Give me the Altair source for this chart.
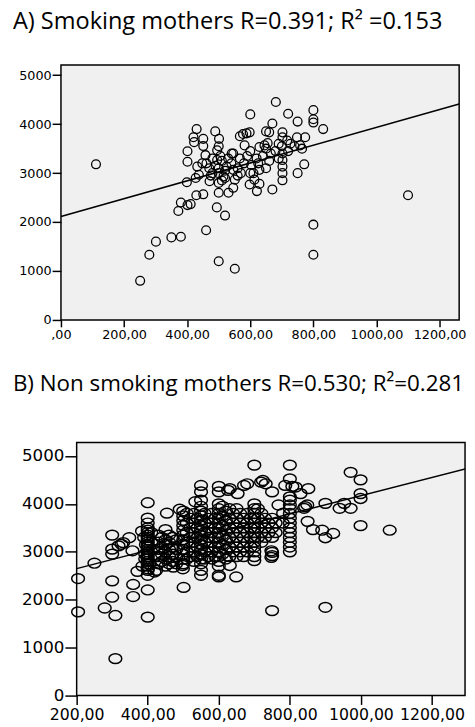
import altair as alt
import pandas as pd

# ---------------- text ----------------
title_a = "A) Smoking mothers R=0.391; R² =0.153"
title_b = "B) Non smoking mothers R=0.530; R²=0.281"

# ---------------- ticks ----------------
y_ticks = [0, 1000, 2000, 3000, 4000, 5000]
a_x_ticks = [0, 200, 400, 600, 800, 1000, 1200]
b_x_ticks = [200, 400, 600, 800, 1000, 1200]

# ---------------- panel A points (x, y) ----------------
a_sparse = [(111, 3180), (251, 800), (280, 1333), (301, 1600), (350, 1687), (380, 1700),
            (372, 2227), (380, 2400), (401, 2347), (411, 2367), (429, 2547), (451, 2567),
            (460, 1833), (500, 1200), (551, 1047), (494, 2300), (520, 2133), (399, 2813),
            (800, 1947), (800, 1333), (1100, 2547)]
a_left = [(401, 3233), (401, 3447), (420, 3733), (422, 3633), (430, 3900), (451, 3700),
          (451, 3553), (432, 3133), (448, 3200), (458, 3367), (427, 2900), (437, 2967),
          (489, 3853), (501, 3700), (495, 3467), (495, 3267), (500, 3000), (500, 2800),
          (500, 2600), (531, 2600), (515, 2933), (525, 3133), (546, 3067), (541, 3400),
          (471, 2833), (461, 3200)]
a_right = [(681, 4453), (600, 4200), (720, 4213), (750, 4053), (800, 4287), (800, 4100),
           (800, 4033), (831, 3900), (670, 4013), (650, 3853), (660, 3833), (702, 3833),
           (702, 3733), (774, 3733), (748, 3733), (758, 3567), (764, 3500), (727, 3600),
           (717, 3667), (577, 3800), (588, 3813), (598, 3833), (567, 3753), (582, 3567),
           (629, 3533), (645, 3567), (655, 3613), (702, 3400), (702, 3267), (702, 3133),
           (702, 3000), (702, 2853), (670, 2667), (771, 3180), (750, 3000), (621, 2633),
           (598, 2767), (629, 2780), (613, 2867), (546, 2700), (551, 2867), (650, 3100),
           (629, 3067), (603, 3167), (567, 3300), (546, 3400)]
a_core = [(470, 3100), (480, 3000), (490, 3150), (505, 3350), (510, 3250), (520, 3050),
          (530, 3300), (480, 3300), (475, 2950), (510, 2850), (540, 3200), (560, 3100),
          (570, 3000), (580, 3200), (590, 3350), (620, 3300), (640, 3350), (600, 3450),
          (610, 3000), (660, 3250), (680, 3450), (690, 3300), (650, 3500), (700, 3550),
          (720, 3450), (740, 3550), (560, 2950), (520, 2900), (600, 3000), (625, 3200),
          (665, 3400), (690, 3600), (500, 3550), (500, 3100)]

# ---------------- panel B points (x, y) ----------------
b_sparse_left = [(204, 2442), (204, 1746), (250, 2762), (300, 3349), (300, 3056), (300, 2953),
                 (318, 3124), (331, 3192), (348, 3294), (357, 3022), (300, 2394), (300, 2053),
                 (279, 1828), (309, 1671), (309, 771), (359, 2319), (359, 2067), (371, 2593),
                 (384, 3431), (393, 2851), (326, 3157), (393, 2953)]
b_col400 = [(400, 4025), (400, 3704), (400, 3601), (400, 3500), (400, 3450), (400, 3400),
            (400, 3350), (400, 3300), (400, 3250), (400, 3200), (400, 3150), (400, 3100),
            (400, 3050), (400, 3000), (400, 2950), (400, 2900), (400, 2850), (400, 2800),
            (400, 2750), (400, 2700), (400, 2646), (400, 2613), (400, 2511), (400, 2204),
            (400, 1637)]
b_block450 = [(390, 3300), (410, 3200), (415, 3050), (420, 2900), (405, 2750), (385, 2700),
              (395, 3150), (410, 3400), (424, 2613), (419, 2578), (430, 3350), (430, 3200),
              (430, 3050), (430, 2900), (430, 2750), (440, 3300), (440, 3100), (440, 2950),
              (440, 2800), (450, 3464), (450, 3250), (450, 3150), (450, 3000), (450, 2850),
              (450, 2700), (460, 3350), (460, 3200), (460, 3050), (460, 2900), (460, 2750),
              (470, 3300), (470, 3100), (470, 2950), (470, 2800), (472, 2681), (480, 3250),
              (480, 3050), (480, 2900), (480, 2750), (454, 3806), (490, 3888), (501, 2257),
              (499, 2646), (498, 2715)]
b_block550 = [(500, 3850), (500, 3750), (500, 3650), (500, 3550), (500, 3450), (500, 3350),
              (500, 3250), (500, 3150), (500, 3050), (500, 2950), (500, 2850), (500, 2750),
              (510, 3800), (510, 3600), (510, 3400), (510, 3200), (510, 3000), (510, 2850),
              (520, 3700), (520, 3500), (520, 3300), (520, 3100), (520, 2900), (530, 3800),
              (530, 3600), (530, 3400), (530, 3200), (530, 3000), (530, 2800), (540, 3700),
              (540, 3500), (540, 3300), (540, 3100), (540, 2900), (534, 4045),
              (550, 4385), (550, 4250), (550, 4078), (550, 3950), (550, 3850), (550, 3750),
              (550, 3650), (550, 3550), (550, 3450), (550, 3350), (550, 3250), (550, 3150),
              (550, 3050), (550, 2950), (550, 2850), (550, 2750), (550, 2613), (550, 2511),
              (560, 3800), (560, 3600), (560, 3400), (560, 3200), (560, 3000), (560, 2850),
              (570, 3700), (570, 3500), (570, 3300), (570, 3100), (570, 2900), (580, 3800),
              (580, 3600), (580, 3400), (580, 3200), (580, 3000), (580, 2850), (590, 3700),
              (590, 3500), (590, 3300), (590, 3100), (590, 2900)]
b_col600 = [(600, 4365), (600, 4250), (600, 4000), (600, 3900), (600, 3800), (600, 3700),
            (600, 3600), (600, 3500), (600, 3400), (600, 3300), (600, 3200), (600, 3100),
            (600, 3000), (600, 2900), (600, 2800), (600, 2700), (600, 2511), (600, 2476)]
b_upper = [(626, 4283), (631, 4318), (653, 4215), (671, 4385), (680, 4420), (724, 4488),
           (732, 4420), (719, 4454), (750, 4250), (700, 4809), (800, 4809)]
b_block650 = [(610, 3950), (610, 3750), (610, 3550), (610, 3350), (610, 3150), (610, 2950),
              (620, 3850), (620, 3650), (620, 3450), (620, 3250), (620, 3050), (620, 2850),
              (631, 2715), (630, 3900), (630, 3700), (630, 3500), (630, 3300), (630, 3100),
              (630, 2900), (640, 3800), (640, 3600), (640, 3400), (640, 3200), (640, 3000),
              (650, 3900), (650, 3700), (650, 3500), (650, 3300), (650, 3100), (650, 2900),
              (649, 2476), (660, 3800), (660, 3600), (660, 3400), (660, 3200), (660, 3000),
              (670, 3700), (670, 3500), (670, 3300), (670, 3100), (670, 2900), (680, 3800),
              (680, 3600), (680, 3400), (680, 3200), (680, 3000), (690, 3700), (690, 3500),
              (690, 3300), (690, 3100)]
b_col700 = [(700, 4000), (700, 3900), (700, 3800), (700, 3700), (700, 3600), (700, 3500),
            (700, 3400), (700, 3300), (700, 3200), (700, 3100), (700, 3000), (700, 2900),
            (700, 2817)]
b_block750 = [(710, 3900), (710, 3700), (710, 3500), (710, 3300), (720, 3800), (720, 3600),
              (720, 3400), (720, 3200), (730, 3700), (730, 3500), (730, 3300), (740, 3600),
              (740, 3400), (750, 3700), (750, 3500), (750, 3300), (748, 3022), (748, 2885),
              (750, 2988), (750, 2920), (760, 3600), (760, 3400), (768, 3977), (781, 3806),
              (780, 3600)]
b_col800 = [(800, 4522), (787, 4385), (807, 4365), (800, 4148), (800, 4078), (800, 3977),
            (800, 3900), (800, 3800), (800, 3700), (800, 3600), (800, 3500), (800, 3400),
            (800, 3300), (800, 3200), (800, 3100), (800, 3000)]
b_right = [(816, 4352), (830, 4215), (852, 4318), (843, 3943), (849, 3977), (840, 3908),
           (850, 3636), (865, 3464), (891, 3451), (900, 3294), (922, 3383), (900, 4011),
           (940, 3908), (953, 4011), (971, 3908), (971, 4659), (999, 4502), (999, 4215),
           (999, 4113), (999, 3546), (1081, 3451), (750, 1774), (900, 1842)]

# ---------------- fitted lines ----------------
a_fit_x = [0, 1262]
a_fit_y = [2114, 4413]
b_fit_x = [200, 1300]
b_fit_y = [2650, 4742]

# ---------------- tables ----------------
a_all = a_sparse + a_left + a_right + a_core
b_all = (b_sparse_left + b_col400 + b_block450 + b_block550 + b_col600 + b_upper
         + b_block650 + b_col700 + b_block750 + b_col800 + b_right)
dfa = pd.DataFrame(a_all, columns=["x", "y"])
dfb = pd.DataFrame(b_all, columns=["x", "y"])
dfa_fit = pd.DataFrame({"x": a_fit_x, "y": a_fit_y})
dfb_fit = pd.DataFrame({"x": b_fit_x, "y": b_fit_y})

xlab = "datum.value == 0 ? ',00' : datum.value + ',00'"
ylab = "'' + datum.value"
TITLE_FONT = "Open Sans"
TICK_FONT = "DejaVu Sans"


def axis(values, size, ticksize, pad, expr):
    return alt.Axis(values=values, title=None, grid=False, domain=False, tickSize=ticksize,
                    tickColor="black", tickWidth=1.5, labelFont=TICK_FONT, labelFontSize=size,
                    labelColor="black", labelPadding=pad, labelOverlap=False,
                    labelFlush=False, labelExpr=expr)


view_box = alt.ViewBackground(stroke="black", strokeWidth=1.5, fill="#f0f0f0")

# ---------------- panel A ----------------
xa = alt.Scale(domain=[0, 1262], nice=False, zero=False)
ya = alt.Scale(domain=[0, 5210], nice=False, zero=False)
pts_a = alt.Chart(dfa).mark_point(shape="circle", size=81, filled=False, color="black",
                                  strokeWidth=1.3, opacity=1).encode(
    x=alt.X("x:Q", scale=xa, axis=axis(a_x_ticks, 13, 7, 2, xlab)),
    y=alt.Y("y:Q", scale=ya, axis=axis(y_ticks, 13, 9, 1, ylab)),
)
line_a = alt.Chart(dfa_fit).mark_line(color="black", strokeWidth=1.5, clip=True).encode(
    x="x:Q", y="y:Q")
chart_a = alt.layer(pts_a, line_a).properties(
    width=406, height=260, view=view_box,
    title=alt.TitleParams(title_a, anchor="start", frame="group", dx=-49, font=TITLE_FONT,
                          fontSize=24, fontWeight="normal", color="black",
                          baseline="alphabetic", offset=13),
)

# ---------------- panel B ----------------
ellipse = "M -1 0 A 1 0.77 0 1 1 1 0 A 1 0.77 0 1 1 -1 0 Z"
xb = alt.Scale(domain=[200, 1293], nice=False, zero=False)
yb = alt.Scale(domain=[0, 5280], nice=False, zero=False)
pts_b = alt.Chart(dfb).mark_point(shape=ellipse, size=169, filled=False, color="black",
                                  strokeWidth=1.5, opacity=1).encode(
    x=alt.X("x:Q", scale=xb, axis=axis(b_x_ticks, 16, 9, 2, xlab)),
    y=alt.Y("y:Q", scale=yb, axis=axis(y_ticks, 17, 12, 1, ylab)),
)
line_b = alt.Chart(dfb_fit).mark_line(color="black", strokeWidth=1.5, clip=True).encode(
    x="x:Q", y="y:Q")
chart_b = alt.layer(pts_b, line_b).properties(
    width=396, height=258, view=view_box,
    title=alt.TitleParams(title_b, anchor="start", frame="group", dx=-65, font=TITLE_FONT,
                          fontSize=22.8, fontWeight="normal", color="black",
                          baseline="alphabetic", offset=30),
)

spacer = alt.Chart(pd.DataFrame({"v": [0]})).mark_point(opacity=0).encode(
    x=alt.value(0), y=alt.value(0)).properties(
    width=1, height=1, view=alt.ViewBackground(stroke="transparent", fill="transparent"))

row_b = alt.hconcat(spacer, chart_b, spacing=15, bounds="flush")

chart = alt.vconcat(chart_a, row_b, spacing=30).properties(
    padding={"left": 4, "top": -6, "right": 0, "bottom": 0},
    background="white",
).configure_view(stroke="black")

chart.save("out.html", embed_options={"renderer": "svg", "actions": False})
